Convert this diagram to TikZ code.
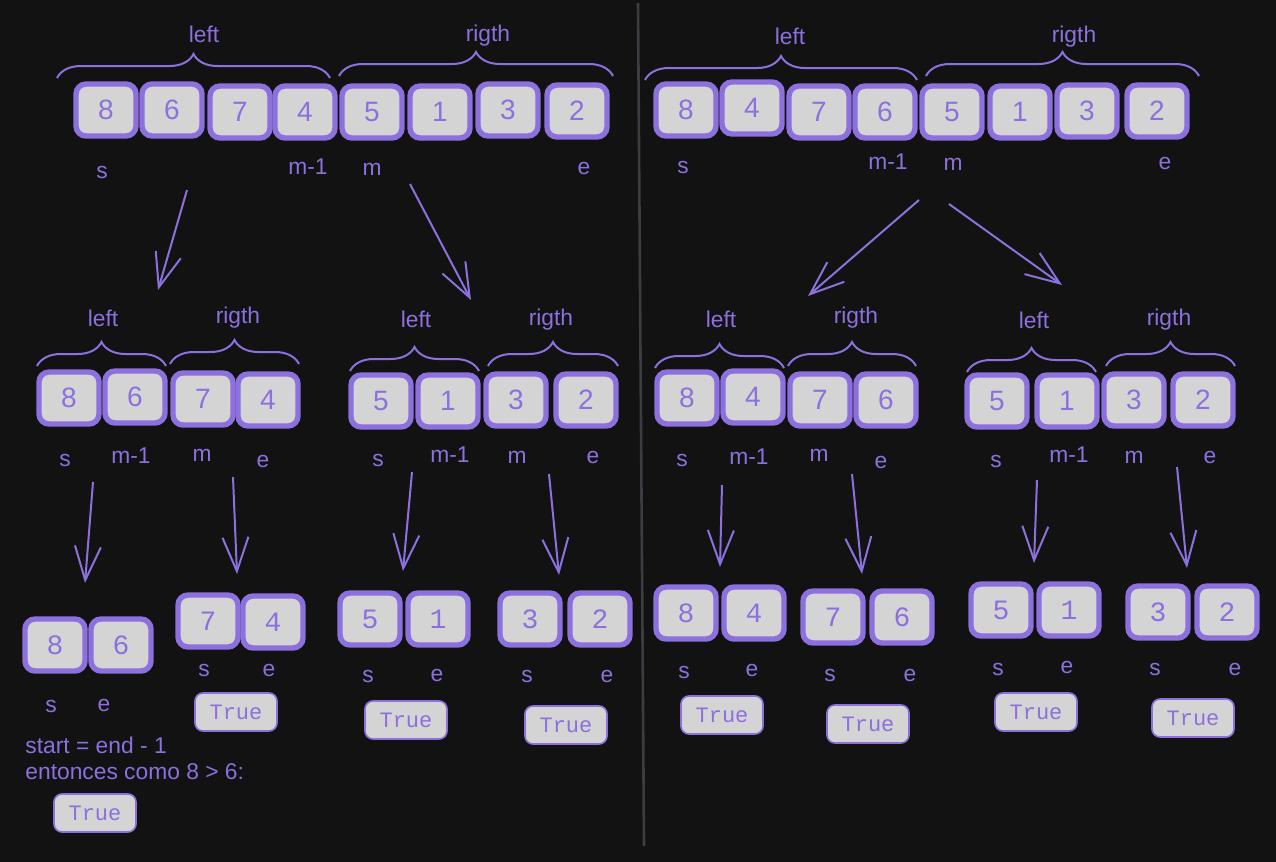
\documentclass[tikz,border=0pt]{standalone}
\usepackage{fontspec}
\setmainfont{Liberation Sans}
\newfontfamily\codefont{Liberation Mono}
\usepackage{tikz}
\usetikzlibrary{arrows.meta,decorations.pathreplacing}
\definecolor{fondo}{HTML}{121212}
\definecolor{lila}{HTML}{8C70DE}
\definecolor{celda}{HTML}{D4D4D4}
\definecolor{raya}{HTML}{3A3D41}
\tikzset{
  cell/.style={draw=lila,line width=2.7pt,fill=celda,rounded corners=5pt,minimum width=30pt,minimum height=26pt,inner sep=0pt,text=lila,font=\fontsize{14}{16}\selectfont},
  cellc/.style={cell,font=\codefont\fontsize{14}{16}\selectfont},
  lbl/.style={text=lila,font=\fontsize{11.4}{13}\selectfont,inner sep=1pt,text height=8pt,text depth=2pt},
  truebox/.style={draw=lila,line width=0.8pt,fill=celda,rounded corners=4pt,minimum width=41pt,minimum height=19pt,inner sep=0pt,text=lila,font=\codefont\fontsize{11}{13}\selectfont},
  flecha/.style={draw=lila,line width=1pt,-{Straight Barb[length=17pt,width=13pt]}},
  llave/.style={draw=lila,line width=1pt,decorate,decoration={brace,amplitude=12pt}}
}
\newcommand{\llave}[3]{\draw[llave] (#1,#3) -- (#2,#3);}

\begin{document}
\begin{tikzpicture}[x=0.5pt,y=-0.5pt]
\useasboundingbox (0,0) rectangle (1276,862);
\fill[fondo] (0,0) rectangle (1276,862);
% ---- separador ----
\coordinate (sep1) at (638,3); \coordinate (sep2) at (644,846);
\draw[raya,line width=1.3pt] (sep1) -- (sep2);
% ---- arreglos completos ----
\foreach \n/\x/\y/\d in {1/106/110/8,2/172/110/6,3/240/112/7,4/305/112/4,5/372/112/5,6/440/112/1,7/508/110/3,8/577/111/2}
  \node[cell] (a\n) at (\x,\y) {\d};
\foreach \n/\x/\y/\d in {1/686/110/8,2/752/108/4,3/819/112/7,4/885/112/6,5/952/112/5,6/1020/112/1,7/1087/111/3,8/1157/111/2}
  \node[cell] (b\n) at (\x,\y) {\d};
% ---- mitades ----
\foreach \n/\x/\y/\d in {1/69/398/8,2/135/397/6,3/203/399/7,4/268/400/4}
  \node[cell] (c\n) at (\x,\y) {\d};
\foreach \n/\x/\y/\d in {1/381/401/5,2/448/401/1,3/516/400/3,4/586/400/2}
  \node[cell] (d\n) at (\x,\y) {\d};
\foreach \n/\x/\y/\d in {1/687/398/8,2/753/397/4,3/820/400/7,4/886/400/6}
  \node[cell] (e\n) at (\x,\y) {\d};
\foreach \n/\x/\y/\d in {1/997/401/5,2/1067/401/1,3/1134/400/3,4/1203/400/2}
  \node[cell] (f\n) at (\x,\y) {\d};
% ---- pares ----
\foreach \n/\xa/\ya/\da/\xb/\yb/\db in {g/55/645/8/121/645/6,h/208/621/7/273/622/4,i/370/619/5/438/619/1,j/530/619/3/600/619/2,k/686/613/8/754/613/4,l/833/617/7/902/617/6,m/1001/610/5/1069/610/1,n/1158/612/3/1227/612/2}{
  \node[cellc] (\n1) at (\xa,\ya) {\da};
  \node[cellc] (\n2) at (\xb,\yb) {\db};}
% ---- llaves ----
\llave{57}{330}{78} \llave{339}{613}{76}
\llave{645}{917}{80} \llave{926}{1199}{76}
\llave{37}{166}{366} \llave{170}{299}{364}
\llave{350}{479}{371} \llave{488}{618}{366}
\llave{655}{784}{368} \llave{788}{916}{366}
\llave{967}{1096}{372} \llave{1106}{1235}{366}
\foreach \n/\x/\y/\t in {la/204/36/left,ra/488/35/rigth,lb/790/38/left,rb/1074/36/rigth,lc/103/320/left,rc/238/317/rigth,ld/416/321/left,rd/551/319/rigth,le/721/321/left,re/856/317/rigth,lf/1034/322/left,rf/1169/319/rigth}
  \node[lbl] (\n) at (\x,\y) {\t};
% ---- indices ----
\foreach \n/\x/\y/\t in {sa/102/172/s,ma1/308/168/m-1,ma/372/169/m,ea/584/168/e,
  sb/683/167/s,mb1/888/163/m-1,mb/953/164/m,eb/1165/163/e,
  sc/65/460/s,mc1/131/457/m-1,mc/202/455/m,ec/263/461/e,
  sd/378/460/s,md1/450/456/m-1,md/517/457/m,ed/593/457/e,
  se/682/460/s,me1/749/458/m-1,me/819/455/m,ee/881/462/e,
  sf/996/461/s,mf1/1069/456/m-1,mf/1134/457/m,ef/1210/457/e,
  sg/51/706/s,eg/104/705/e,sh/204/670/s,eh/269/670/e,si/368/676/s,ei/437/675/e,sj/527/676/s,ej/607/676/e,
  sk/684/672/s,ek/752/670/e,sl/830/675/s,el/910/675/e,sm/998/669/s,em/1067/667/e,sn/1155/669/s,en/1235/669/e}
  \node[lbl] (\n) at (\x,\y) {\t};
% ---- resultados ----
\foreach \n/\x/\y in {h/236/712,i/406/720,j/566/725,g/95/813,k/722/715,l/868/724,m/1036/712,n/1193/718}
  \node[truebox] (t\n) at (\x,\y) {True};
\node[lbl,anchor=west] (nota1) at (23,747) {start = end - 1};
\node[lbl,anchor=west] (nota2) at (23,773) {entonces como 8 > 6:};
% ---- flechas ----
\foreach \k/\xa/\ya/\xb/\yb in {1/187/190/158/290,2/410/184/471/300,3/919/200/808/296,4/949/204/1062/285,
  5/93/482/85/583,6/233/477/237/574,7/412/472/403/571,8/549/474/559/575,
  9/722/485/720/567,10/852/474/862/574,11/1037/480/1034/563,12/1177/467/1187/568}{
  \coordinate (v\k a) at (\xa,\ya); \coordinate (v\k b) at (\xb,\yb);
  \draw[flecha] (v\k a) -- (v\k b);}
\end{tikzpicture}
\end{document}
